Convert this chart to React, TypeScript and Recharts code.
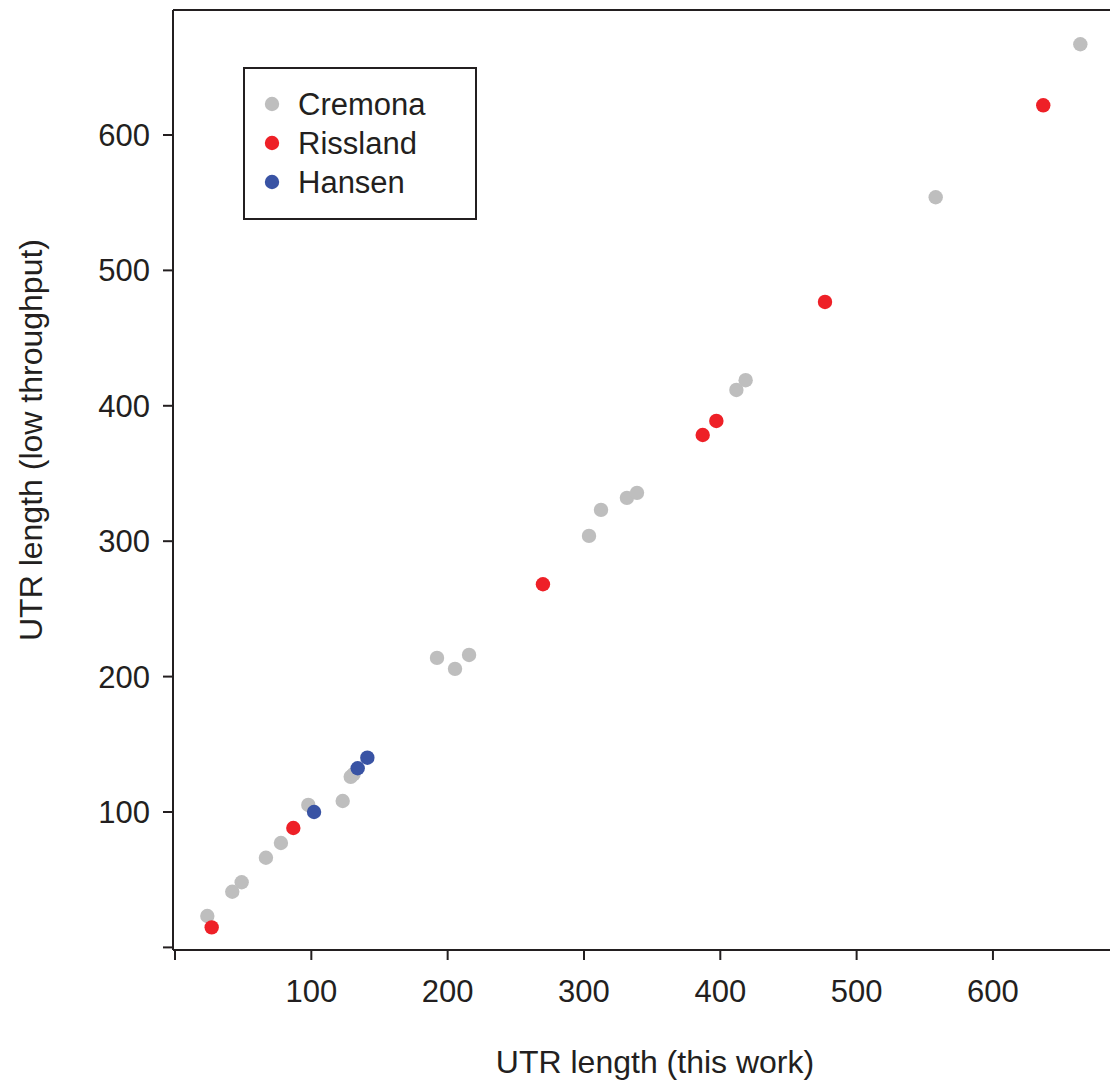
import React from 'react';
import { ScatterChart, Scatter, XAxis, YAxis, Legend, ReferenceLine } from 'recharts';

const cremonaX = [23.7, 42.0, 48.9, 66.7, 77.7, 97.8, 123.0, 128.9, 131.0, 192.2, 205.4, 215.7, 303.7, 312.5, 331.5, 338.9, 411.8, 418.6, 558.0, 664.1];
const cremonaY = [23.2, 41.1, 48.1, 66.2, 77.1, 105.2, 108.1, 126.0, 128.0, 213.8, 205.7, 216.0, 303.9, 323.1, 332.0, 335.7, 411.7, 418.9, 554.0, 667.0];
const risslandX = [26.9, 86.8, 269.9, 387.1, 397.1, 476.8, 636.9];
const risslandY = [14.8, 88.2, 268.2, 378.4, 388.8, 476.7, 621.9];
const hansenX = [102.0, 134.0, 141.1];
const hansenY = [100.0, 132.3, 140.1];

const tickValues = [0, 100, 200, 300, 400, 500, 600];
const seriesNames = ['Cremona', 'Rissland', 'Hansen'];
const seriesColors = ['#bebebe', '#ee2027', '#3953a4'];

const zip = (xs: number[], ys: number[]) => xs.map((x, i) => ({ x, y: ys[i] }));
const cremona = zip(cremonaX, cremonaY);
const rissland = zip(risslandX, risslandY);
const hansen = zip(hansenX, hansenY);

const X_DOMAIN: [number, number] = [-1.47, 693.2];
const Y_DOMAIN: [number, number] = [-1.92, 692.3];

const FONT = '"Liberation Sans", Arial, Helvetica, sans-serif';
const TEXT = '#231f20';

const dot = (color: string) => (props: any) => (
  <circle cx={props.cx} cy={props.cy} r={7.2} fill={color} />
);

const LegendBox = () => (
  <div style={{ width: 230, height: 149, border: `2px solid ${TEXT}`, background: '#fff' }}>
    <svg width={230} height={149}>
      {seriesNames.map((n, i) => (
        <g key={n}>
          <circle cx={27} cy={35 + i * 39} r={7.2} fill={seriesColors[i]} />
          <text x={53} y={35 + i * 39 + 11} fontFamily={FONT} fontSize={31} fill={TEXT}>{n}</text>
        </g>
      ))}
    </svg>
  </div>
);

const XTitle = () => (
  <text x={655} y={1073} textAnchor="middle" fontFamily={FONT} fontSize={32} fill={TEXT}>
    UTR length (this work)
  </text>
);

const YTitle = () => (
  <text x={42} y={440} transform="rotate(-90, 42, 440)" textAnchor="middle" fontFamily={FONT} fontSize={32} fill={TEXT}>
    UTR length (low throughput)
  </text>
);

const fmt = (v: number) => (v === 0 ? '' : String(v));

export default function App() {
  return (
    <div style={{ position: 'absolute', left: 0, top: 0, width: 1110, height: 1080, overflow: 'hidden', background: '#fff' }}>
      <ScatterChart width={1120} height={1080} margin={{ top: 10, right: 0, bottom: 0, left: 0 }}>
        <XAxis
          type="number"
          dataKey="x"
          domain={X_DOMAIN}
          allowDataOverflow
          ticks={tickValues}
          tickFormatter={fmt}
          height={130}
          tickSize={10}
          tickMargin={20}
          axisLine={{ stroke: TEXT, strokeWidth: 2 }}
          tickLine={{ stroke: TEXT, strokeWidth: 2 }}
          tick={{ fontFamily: FONT, fontSize: 31, fill: TEXT }}
          label={<XTitle />}
        />
        <YAxis
          type="number"
          dataKey="y"
          domain={Y_DOMAIN}
          allowDataOverflow
          ticks={tickValues}
          tickFormatter={fmt}
          width={173}
          tickSize={10}
          tickMargin={13}
          axisLine={{ stroke: TEXT, strokeWidth: 2 }}
          tickLine={{ stroke: TEXT, strokeWidth: 2 }}
          tick={{ fontFamily: FONT, fontSize: 31, fill: TEXT }}
          label={<YTitle />}
        />
        <ReferenceLine y={Y_DOMAIN[1]} stroke={TEXT} strokeWidth={2} />
        <Legend
          layout="vertical"
          align="center"
          verticalAlign="middle"
          wrapperStyle={{ left: 243, top: 67, width: 234, height: 153 }}
          content={() => <LegendBox />}
        />
        <Scatter name="Cremona" data={cremona} shape={dot(seriesColors[0])} isAnimationActive={false} legendType="circle" />
        <Scatter name="Rissland" data={rissland} shape={dot(seriesColors[1])} isAnimationActive={false} legendType="circle" />
        <Scatter name="Hansen" data={hansen} shape={dot(seriesColors[2])} isAnimationActive={false} legendType="circle" />
      </ScatterChart>
    </div>
  );
}
